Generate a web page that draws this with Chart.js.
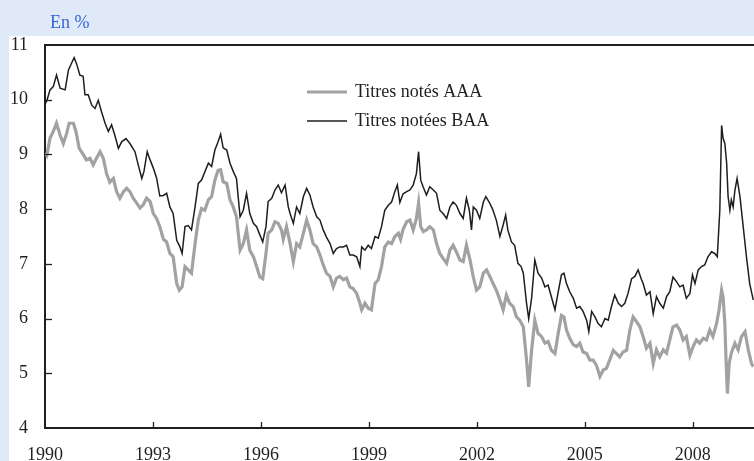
<!DOCTYPE html>
<html>
<head>
<meta charset="utf-8">
<script src="https://cdn.jsdelivr.net/npm/chart.js@4/dist/chart.umd.min.js"></script>
<style>
  html, body { margin: 0; padding: 0; background: #dfe9f8; }
  canvas { display: block; }
</style>
</head>
<body>
<canvas id="c" width="754" height="461"></canvas>
<script>
// ---- Data ----
const unitLabel = "En %";
const seriesNames = ["Titres notés AAA", "Titres notées BAA"];
const xTickYears = [1990, 1993, 1996, 1999, 2002, 2005, 2008];
const yTickValues = [4, 5, 6, 7, 8, 9, 10, 11];

const aaaYears = [
  1990.00,1990.05,1990.14,1990.23,1990.32,1990.42,1990.51,1990.60,1990.67,1990.79,
  1990.86,1990.95,1991.06,1991.15,1991.25,1991.34,1991.43,1991.53,1991.62,1991.71,
  1991.80,1991.90,1991.99,1992.08,1992.18,1992.27,1992.36,1992.45,1992.55,1992.64,
  1992.73,1992.82,1992.92,1993.01,1993.10,1993.19,1993.29,1993.38,1993.47,1993.56,
  1993.66,1993.73,1993.81,1993.89,1993.98,1994.07,1994.17,1994.26,1994.35,1994.44,
  1994.54,1994.63,1994.72,1994.81,1994.88,1994.95,1995.05,1995.14,1995.23,1995.32,
  1995.42,1995.51,1995.60,1995.69,1995.79,1995.88,1995.97,1996.05,1996.14,1996.20,
  1996.30,1996.39,1996.48,1996.57,1996.62,1996.71,1996.81,1996.90,1996.99,1997.08,
  1997.18,1997.27,1997.36,1997.45,1997.55,1997.64,1997.73,1997.82,1997.92,1998.01,
  1998.10,1998.19,1998.29,1998.38,1998.47,1998.56,1998.66,1998.75,1998.80,1998.89,
  1998.98,1999.07,1999.17,1999.26,1999.35,1999.44,1999.54,1999.63,1999.72,1999.82,
  1999.88,1999.95,2000.05,2000.14,2000.23,2000.32,2000.38,2000.44,2000.51,2000.60,
  2000.69,2000.79,2000.88,2000.97,2001.06,2001.16,2001.25,2001.34,2001.43,2001.53,
  2001.62,2001.71,2001.81,2001.90,2001.99,2002.08,2002.18,2002.27,2002.36,2002.45,
  2002.54,2002.64,2002.73,2002.82,2002.91,2003.01,2003.10,2003.19,2003.29,2003.38,
  2003.44,2003.52,2003.61,2003.70,2003.80,2003.89,2003.98,2004.07,2004.17,2004.26,
  2004.35,2004.42,2004.49,2004.58,2004.68,2004.77,2004.86,2004.95,2005.05,2005.14,
  2005.23,2005.32,2005.42,2005.51,2005.60,2005.69,2005.79,2005.88,2005.97,2006.06,
  2006.16,2006.25,2006.34,2006.44,2006.53,2006.62,2006.71,2006.81,2006.90,2006.99,
  2007.08,2007.18,2007.27,2007.36,2007.45,2007.55,2007.64,2007.73,2007.82,2007.92,
  2008.01,2008.10,2008.19,2008.29,2008.38,2008.47,2008.56,2008.66,2008.73,2008.80,
  2008.84,2008.89,2008.92,2008.96,2009.01,2009.07,2009.17,2009.26,2009.35,2009.45,
  2009.54,2009.63,2009.68
];
const aaaValues = [
  9.02,8.98,9.30,9.42,9.57,9.35,9.20,9.38,9.57,9.57,
  9.42,9.11,9.00,8.90,8.93,8.81,8.93,9.05,8.93,8.65,
  8.49,8.56,8.32,8.20,8.32,8.38,8.32,8.20,8.11,8.02,
  8.08,8.20,8.14,7.92,7.83,7.68,7.45,7.40,7.19,7.13,
  6.64,6.52,6.58,6.95,6.89,6.83,7.37,7.80,8.01,7.98,
  8.17,8.23,8.53,8.71,8.72,8.50,8.47,8.17,8.04,7.86,
  7.25,7.37,7.62,7.25,7.13,6.95,6.76,6.73,7.19,7.56,
  7.62,7.77,7.74,7.62,7.45,7.68,7.37,7.04,7.37,7.31,
  7.56,7.80,7.62,7.37,7.31,7.16,6.98,6.83,6.77,6.58,
  6.74,6.77,6.71,6.74,6.58,6.55,6.46,6.28,6.16,6.28,
  6.19,6.16,6.64,6.71,6.95,7.31,7.40,7.37,7.50,7.56,
  7.45,7.63,7.77,7.80,7.62,7.83,8.11,7.68,7.59,7.62,
  7.68,7.62,7.37,7.19,7.10,7.01,7.25,7.34,7.22,7.07,
  7.04,7.34,7.07,6.76,6.52,6.58,6.83,6.89,6.77,6.64,
  6.52,6.34,6.16,6.43,6.28,6.22,6.03,5.97,5.85,5.24,
  4.75,5.42,5.97,5.73,5.67,5.55,5.58,5.42,5.36,5.73,
  6.06,6.03,5.79,5.64,5.52,5.49,5.55,5.39,5.36,5.24,
  5.24,5.15,4.94,5.06,5.09,5.24,5.42,5.36,5.30,5.39,
  5.42,5.79,6.03,5.94,5.85,5.67,5.46,5.55,5.18,5.43,
  5.30,5.43,5.37,5.61,5.85,5.88,5.79,5.61,5.67,5.33,
  5.49,5.61,5.55,5.64,5.61,5.79,5.67,5.91,6.16,6.52,
  6.40,5.91,5.30,4.63,5.18,5.37,5.55,5.43,5.67,5.76,
  5.43,5.18,5.12
];

const baaYears = [
  1990.00,1990.05,1990.14,1990.23,1990.32,1990.42,1990.56,1990.65,1990.74,1990.81,
  1990.88,1990.97,1991.06,1991.11,1991.20,1991.30,1991.39,1991.48,1991.57,1991.67,
  1991.76,1991.85,1991.94,1992.04,1992.13,1992.25,1992.36,1992.50,1992.59,1992.69,
  1992.75,1992.84,1992.92,1993.01,1993.10,1993.19,1993.29,1993.38,1993.47,1993.56,
  1993.66,1993.75,1993.81,1993.89,1993.98,1994.07,1994.17,1994.26,1994.35,1994.44,
  1994.54,1994.63,1994.72,1994.81,1994.88,1994.95,1995.05,1995.14,1995.23,1995.32,
  1995.42,1995.51,1995.60,1995.69,1995.79,1995.88,1995.97,1996.05,1996.14,1996.20,
  1996.30,1996.39,1996.48,1996.57,1996.67,1996.76,1996.81,1996.90,1996.99,1997.08,
  1997.18,1997.27,1997.36,1997.45,1997.55,1997.64,1997.73,1997.82,1997.92,1998.01,
  1998.10,1998.19,1998.29,1998.38,1998.47,1998.56,1998.66,1998.75,1998.80,1998.89,
  1998.98,1999.07,1999.17,1999.26,1999.35,1999.44,1999.54,1999.63,1999.72,1999.79,
  1999.86,1999.95,2000.05,2000.14,2000.23,2000.32,2000.38,2000.44,2000.51,2000.60,
  2000.69,2000.79,2000.88,2000.97,2001.06,2001.16,2001.25,2001.34,2001.43,2001.53,
  2001.62,2001.71,2001.79,2001.85,2001.90,2001.99,2002.08,2002.18,2002.25,2002.34,
  2002.43,2002.54,2002.64,2002.73,2002.80,2002.86,2002.96,2003.05,2003.14,2003.23,
  2003.29,2003.38,2003.44,2003.52,2003.61,2003.70,2003.80,2003.89,2003.98,2004.07,
  2004.17,2004.26,2004.35,2004.42,2004.49,2004.58,2004.68,2004.77,2004.86,2004.95,
  2005.05,2005.11,2005.19,2005.28,2005.37,2005.46,2005.56,2005.65,2005.74,2005.83,
  2005.93,2006.02,2006.11,2006.20,2006.30,2006.39,2006.48,2006.57,2006.62,2006.71,
  2006.81,2006.90,2006.99,2007.08,2007.18,2007.27,2007.36,2007.45,2007.55,2007.64,
  2007.73,2007.82,2007.92,2007.99,2008.06,2008.15,2008.24,2008.33,2008.42,2008.52,
  2008.61,2008.68,2008.75,2008.80,2008.84,2008.89,2008.94,2008.98,2009.03,2009.07,
  2009.12,2009.17,2009.23,2009.31,2009.40,2009.49,2009.58,2009.68
];
const baaValues = [
  9.92,9.98,10.18,10.24,10.45,10.21,10.18,10.54,10.67,10.77,
  10.65,10.45,10.43,10.09,10.09,9.90,9.84,9.99,9.78,9.57,
  9.42,9.54,9.35,9.11,9.23,9.29,9.20,9.05,8.81,8.56,
  8.69,9.05,8.90,8.75,8.57,8.24,8.25,8.29,8.04,7.92,
  7.43,7.31,7.19,7.68,7.70,7.62,8.04,8.47,8.53,8.68,
  8.84,8.78,9.08,9.23,9.37,9.12,9.08,8.84,8.69,8.56,
  7.86,7.98,8.29,7.92,7.74,7.68,7.53,7.40,7.68,8.14,
  8.20,8.35,8.44,8.30,8.44,8.04,7.92,7.74,8.04,7.92,
  8.23,8.38,8.26,8.04,7.86,7.80,7.62,7.49,7.37,7.19,
  7.28,7.31,7.31,7.34,7.16,7.16,7.13,6.95,7.31,7.25,
  7.34,7.28,7.50,7.47,7.68,7.98,8.07,8.13,8.32,8.44,
  8.12,8.28,8.32,8.35,8.44,8.65,9.05,8.53,8.40,8.26,
  8.41,8.35,8.29,7.98,7.92,7.83,8.04,8.13,8.07,7.92,
  7.83,8.20,7.98,7.62,8.04,7.98,7.83,8.13,8.23,8.13,
  8.01,7.80,7.50,7.71,7.89,7.62,7.40,7.34,7.01,6.95,
  6.83,6.28,6.00,6.37,7.07,6.83,6.74,6.58,6.61,6.40,
  6.16,6.49,6.80,6.83,6.64,6.49,6.37,6.19,6.22,6.13,
  5.97,5.76,6.13,6.03,5.91,5.85,6.00,5.97,6.22,6.43,
  6.28,6.22,6.28,6.46,6.73,6.77,6.89,6.72,6.64,6.43,
  6.49,6.09,6.40,6.28,6.19,6.40,6.49,6.76,6.67,6.58,
  6.61,6.37,6.46,6.80,6.64,6.89,6.95,6.98,7.13,7.22,
  7.19,7.13,7.98,9.53,9.30,9.20,8.84,8.23,7.98,8.17,
  8.04,8.35,8.56,8.23,7.68,7.13,6.64,6.34
];

// ---- Styling ----
const FONT = '"Liberation Serif", "DejaVu Serif", serif';
const TEXT_COLOR = '#231f20';
const AXIS_COLOR = '#231f20';
const X_MIN = 1990, X_MAX = 2009.7, Y_MIN = 4, Y_MAX = 11;

function toPoints(xs, ys) { return xs.map((x, i) => ({ x: x, y: ys[i] })); }

const decor = {
  id: 'decor',
  beforeDraw(chart) {
    const c = chart.ctx;
    c.save();
    c.fillStyle = '#dfe9f8';
    c.fillRect(0, 0, chart.width, chart.height);
    c.fillStyle = '#ffffff';
    c.fillRect(9, 36, chart.width - 9, chart.height - 36);
    c.fillStyle = '#3467d4';
    c.font = '18px ' + FONT;
    c.textBaseline = 'alphabetic';
    c.textAlign = 'left';
    c.fillText(unitLabel, 50, 28);
    c.restore();
  },
  afterDraw(chart) {
    const c = chart.ctx;
    const a = chart.chartArea;
    const xs = chart.scales.x, ys = chart.scales.y;
    c.save();
    c.strokeStyle = AXIS_COLOR;
    c.lineWidth = 2;
    c.beginPath();
    c.moveTo(a.left - 1, a.top);
    c.lineTo(a.right, a.top);
    c.stroke();
    c.lineWidth = 1.3;
    yTickValues.forEach(v => {
      if (v > Y_MIN && v < Y_MAX) {
        const py = Math.round(ys.getPixelForValue(v)) + 0.5;
        c.beginPath(); c.moveTo(a.left, py); c.lineTo(a.left + 7, py); c.stroke();
      }
    });
    xTickYears.forEach(v => {
      if (v > X_MIN) {
        const px = Math.round(xs.getPixelForValue(v)) + 0.5;
        c.beginPath(); c.moveTo(px, a.bottom); c.lineTo(px, a.bottom - 6); c.stroke();
      }
    });
    // legend
    const lx0 = 307, lx1 = 347, tx = 355, rows = [92, 121];
    chart.data.datasets.forEach((ds, i) => {
      c.strokeStyle = ds.borderColor;
      c.lineWidth = ds.borderWidth;
      c.beginPath(); c.moveTo(lx0, rows[i]); c.lineTo(lx1, rows[i]); c.stroke();
      c.fillStyle = TEXT_COLOR;
      c.font = '18px ' + FONT;
      c.textBaseline = 'alphabetic';
      c.textAlign = 'left';
      c.fillText(ds.label, tx, rows[i] + 5);
    });
    c.restore();
  }
};

new Chart(document.getElementById('c'), {
  type: 'line',
  data: {
    datasets: [
      { label: seriesNames[0], data: toPoints(aaaYears, aaaValues), borderColor: '#a2a2a4', borderWidth: 3.2, pointRadius: 0, tension: 0, order: 2 },
      { label: seriesNames[1], data: toPoints(baaYears, baaValues), borderColor: '#1e1e1e', borderWidth: 1.5, pointRadius: 0, tension: 0, order: 1 }
    ]
  },
  options: {
    responsive: false,
    devicePixelRatio: 1,
    animation: false,
    layout: { padding: { top: 45, left: 0, right: 0, bottom: 0 } },
    plugins: { legend: { display: false }, tooltip: { enabled: false } },
    scales: {
      x: {
        type: 'linear', min: X_MIN, max: X_MAX,
        afterBuildTicks: s => { s.ticks = xTickYears.map(v => ({ value: v })); },
        afterFit: s => { s.height = 33; },
        grid: { display: false, drawTicks: false },
        border: { display: true, color: AXIS_COLOR, width: 2 },
        ticks: { autoSkip: false, maxRotation: 0, padding: 16, color: TEXT_COLOR, font: { family: FONT, size: 18 }, callback: v => String(v) }
      },
      y: {
        type: 'linear', min: Y_MIN, max: Y_MAX,
        afterBuildTicks: s => { s.ticks = yTickValues.map(v => ({ value: v })); },
        afterFit: s => { s.width = 45; },
        grid: { display: false, drawTicks: false },
        border: { display: true, color: AXIS_COLOR, width: 2 },
        ticks: { padding: 17, color: TEXT_COLOR, font: { family: FONT, size: 18 }, callback: v => String(v) }
      }
    }
  },
  plugins: [decor]
});
</script>
</body>
</html>
